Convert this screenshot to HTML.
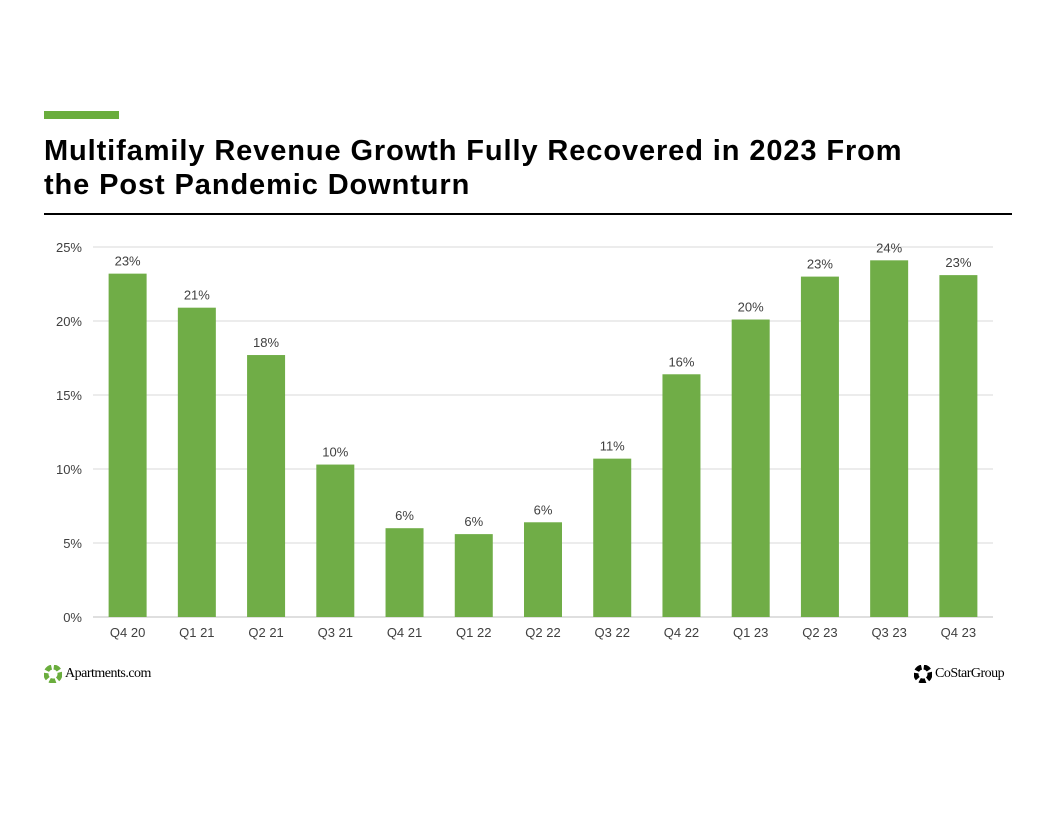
<!DOCTYPE html>
<html><head><meta charset="utf-8"><style>
body{margin:0;width:1056px;height:816px;background:#fff;position:relative;overflow:hidden;font-family:"Liberation Sans",Arial,sans-serif}
.bar-accent{position:absolute;left:44px;top:111px;width:75px;height:8px;background:#6aad3d}
h1{position:absolute;left:44px;top:134px;margin:0;font-size:29px;line-height:34px;font-weight:bold;color:#000;letter-spacing:0.9px}
.rule{position:absolute;left:44px;top:213px;width:968px;height:2px;background:#000}
svg{position:absolute;left:0;top:0}
.logo{position:absolute;top:665px;font-family:"Liberation Serif",serif;font-size:14px;letter-spacing:-0.5px;color:#000;display:flex;align-items:center}
</style></head><body>
<div class="bar-accent"></div>
<h1>Multifamily Revenue Growth Fully Recovered in 2023 From<br>the Post Pandemic Downturn</h1>
<div class="rule"></div>
<svg id="chart" width="1056" height="816"></svg>
<div class="logo" style="left:44px">
<svg width="18" height="18" style="position:static;margin-right:3px" viewBox="0 0 18 18"><circle cx="9" cy="9" r="7" fill="none" stroke="#6aad3d" stroke-width="5" stroke-dasharray="6 2.4"/></svg>Apartments.com</div>
<div class="logo" style="left:914px">
<svg width="18" height="18" style="position:static;margin-right:3px" viewBox="0 0 18 18"><circle cx="9" cy="9" r="7" fill="none" stroke="#000" stroke-width="5" stroke-dasharray="6 2.4"/></svg>CoStarGroup</div>
<script>
const categories=["Q4 20","Q1 21","Q2 21","Q3 21","Q4 21","Q1 22","Q2 22","Q3 22","Q4 22","Q1 23","Q2 23","Q3 23","Q4 23"];
const values=[23.2,20.9,17.7,10.3,6.0,5.6,6.4,10.7,16.4,20.1,23.0,24.1,23.1];
const valueLabels=["23%","21%","18%","10%","6%","6%","6%","11%","16%","20%","23%","24%","23%"];
const yTicks=[0,5,10,15,20,25];
const NS="http://www.w3.org/2000/svg";
const svg=document.getElementById('chart');
const x0=93,x1=993,y0=617,y1=247,yMax=25;
const band=(x1-x0)/categories.length;
const y=v=>y0-(v/yMax)*(y0-y1);
const xc=i=>x0+band*(i+0.5);
function mk(t,a){const e=document.createElementNS(NS,t);for(const k in a)e.setAttribute(k,a[k]);svg.appendChild(e);return e;}
yTicks.forEach(t=>{
  const g=mk('line',{x1:x0,x2:x1,y1:y(t),y2:y(t),stroke:t===0?'#bfbfbf':'#d9d9d9','stroke-width':1});
  
  
  const l=mk('text',{x:82,y:y(t)+5,'text-anchor':'end','font-size':13,fill:'#404040'});
  l.textContent=t+'%';
  
  
});
categories.forEach((c,i)=>{
  const b=mk('rect',{x:xc(i)-19,y:y(values[i]),width:38,height:y0-y(values[i]),fill:'#70ad47'});
  
  
  const v=mk('text',{x:xc(i),y:y(values[i])-8,'text-anchor':'middle','font-size':13,fill:'#404040'});
  v.textContent=valueLabels[i];
  
  
  const t=mk('text',{x:xc(i),y:637,'text-anchor':'middle','font-size':13,fill:'#404040'});
  t.textContent=c;
  
  
});
</script>
</body></html>
